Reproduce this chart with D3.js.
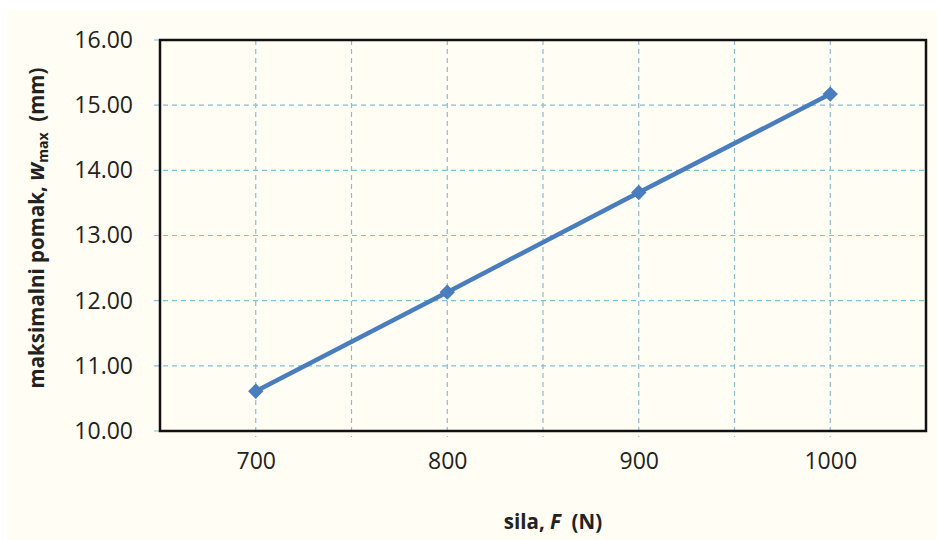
<!DOCTYPE html>
<html>
<head>
<meta charset="utf-8">
<script src="https://cdn.jsdelivr.net/npm/d3@7"></script>
<style>
  body { margin: 0; background: #ffffff; }
  svg { display: block; }
  text { font-family: "Open Sans", Lato, sans-serif; fill: #222; }
</style>
</head>
<body>
<svg id="chart"></svg>
<script>
const forces = [700, 800, 900, 1000];
const wMax = [10.61, 12.13, 13.66, 15.17];
const yTicks = [10, 11, 12, 13, 14, 15, 16];
const xTicks = [700, 800, 900, 1000];

const width = 937, height = 540;
const margin = { top: 40, right: 11, bottom: 109, left: 160 };

const svg = d3.select('#chart')
    .attr('width', width)
    .attr('height', height);

// cream page background
svg.append('rect')
    .attr('x', 7).attr('y', 10)
    .attr('width', width - 7).attr('height', height - 10)
    .attr('fill', '#fffdf4');

const x = d3.scaleLinear()
    .domain([650, 1050])
    .range([margin.left, width - margin.right]);

const y = d3.scaleLinear()
    .domain([10, 16])
    .range([height - margin.bottom, margin.top]);

// GRID
const grid = svg.append('g');
grid.selectAll('.gx')
    .data(d3.range(700, 1050, 50))
    .enter().append('line')
    .attr('x1', d => x(d)).attr('x2', d => x(d))
    .attr('y1', y(16)).attr('y2', y(10) + 6)
    .attr('stroke', '#86bfd3')
    .attr('stroke-width', 1.2)
    .attr('stroke-dasharray', '5,4');

grid.selectAll('.gy')
    .data(yTicks)
    .enter().append('line')
    .attr('x1', x(650) - 6).attr('x2', x(1050))
    .attr('y1', d => y(d)).attr('y2', d => y(d))
    .attr('stroke', '#86bfd3')
    .attr('stroke-width', 1.2)
    .attr('stroke-dasharray', '5,4');

// AXES labels
const yAxis = d3.axisLeft(y).tickValues(yTicks).tickFormat(d3.format('.2f')).tickSize(0).tickPadding(27);
svg.append('g')
    .attr('transform', `translate(${margin.left},0)`)
    .call(yAxis)
    .call(g => g.select('.domain').remove())
    .selectAll('text')
    .style('font-size', '23px')
    .style('font-family', '"Open Sans", Lato, sans-serif')
    .attr('fill', '#222');

const xAxis = d3.axisBottom(x).tickValues(xTicks).tickFormat(d3.format('d')).tickSize(0).tickPadding(22);
svg.append('g')
    .attr('transform', `translate(0,${height - margin.bottom})`)
    .call(xAxis)
    .call(g => g.select('.domain').remove())
    .selectAll('text')
    .style('font-size', '23px')
    .style('font-family', '"Open Sans", Lato, sans-serif')
    .attr('fill', '#222');

// FRAME
svg.append('rect')
    .attr('x', x(650)).attr('y', y(16))
    .attr('width', x(1050) - x(650)).attr('height', y(10) - y(16))
    .attr('fill', 'none')
    .attr('stroke', '#111')
    .attr('stroke-width', 2.5);

// LINE + MARKERS
const pts = forces.map((f, i) => [f, wMax[i]]);
svg.append('path')
    .datum(pts)
    .attr('fill', 'none')
    .attr('stroke', '#4a7dbd')
    .attr('stroke-width', 4.5)
    .attr('d', d3.line().x(d => x(d[0])).y(d => y(d[1])));

svg.selectAll('.pt')
    .data(pts)
    .enter().append('path')
    .attr('transform', d => `translate(${x(d[0])},${y(d[1])})`)
    .attr('d', d3.symbol().type(d3.symbolDiamond2).size(150))
    .attr('fill', '#4a7dbd');

// TITLES
const xt = svg.append('text')
    .attr('x', 553).attr('y', 529)
    .attr('text-anchor', 'middle')
    .style('font-size', '20.5px')
    .style('font-weight', 'bold');
xt.append('tspan').text('sila, ');
xt.append('tspan').style('font-style', 'italic').text('F');
xt.append('tspan').text('\u00a0 (N)');

const yt = svg.append('text')
    .attr('transform', 'translate(44,228) rotate(-90)')
    .attr('text-anchor', 'middle')
    .style('font-size', '20.5px')
    .style('font-weight', 'bold');
yt.append('tspan').text('maksimalni pomak, ');
yt.append('tspan').style('font-style', 'italic').style('font-size', '23px').text('w');
yt.append('tspan').attr('dy', 4).style('font-size', '14px').text('max');
yt.append('tspan').attr('dy', -4).text('\u00a0 (mm)');
</script>
</body>
</html>
